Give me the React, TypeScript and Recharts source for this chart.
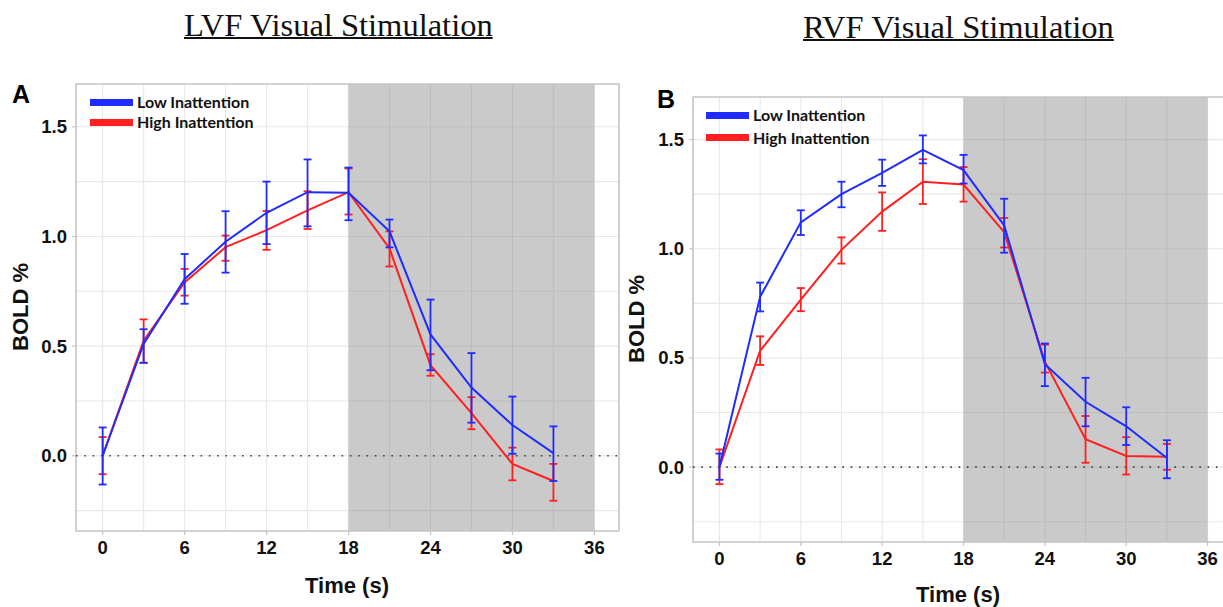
import React from "react"
import {
  ComposedChart,
  Line,
  ErrorBar,
  XAxis,
  YAxis,
  CartesianGrid,
  ReferenceArea,
  ReferenceLine,
  Legend,
} from "recharts"

// time points (s)
const times = [0, 3, 6, 9, 12, 15, 18, 21, 24, 27, 30, 33]

// panel A – LVF
const aLowMean = [0.0, 0.51, 0.805, 0.976, 1.108, 1.202, 1.199, 1.023, 0.553, 0.311, 0.14, 0.012]
const aLowLower = [-0.131, 0.424, 0.693, 0.835, 0.965, 1.046, 1.074, 0.95, 0.39, 0.151, 0.009, -0.115]
const aLowUpper = [0.129, 0.577, 0.92, 1.115, 1.25, 1.351, 1.314, 1.077, 0.712, 0.468, 0.27, 0.134]
const aHighMean = [0.0, 0.525, 0.79, 0.951, 1.029, 1.119, 1.202, 0.945, 0.413, 0.194, -0.037, -0.115]
const aHighLower = [-0.084, 0.424, 0.73, 0.889, 0.939, 1.034, 1.1, 0.863, 0.365, 0.121, -0.112, -0.205]
const aHighUpper = [0.085, 0.622, 0.852, 1.004, 1.116, 1.206, 1.31, 1.023, 0.463, 0.267, 0.037, -0.037]

// panel B – RVF
const bLowMean = [0.0, 0.78, 1.121, 1.25, 1.347, 1.453, 1.36, 1.107, 0.471, 0.299, 0.187, 0.042]
const bLowLower = [-0.058, 0.713, 1.063, 1.19, 1.288, 1.391, 1.299, 0.982, 0.371, 0.187, 0.101, -0.051]
const bLowUpper = [0.062, 0.845, 1.176, 1.307, 1.408, 1.519, 1.43, 1.229, 0.566, 0.409, 0.274, 0.123]
const bHighMean = [0.0, 0.533, 0.767, 0.995, 1.17, 1.307, 1.294, 1.076, 0.483, 0.128, 0.051, 0.047]
const bHighLower = [-0.078, 0.468, 0.714, 0.932, 1.082, 1.205, 1.216, 1.006, 0.433, 0.02, -0.034, -0.012]
const bHighUpper = [0.081, 0.599, 0.82, 1.052, 1.258, 1.41, 1.374, 1.141, 0.561, 0.234, 0.137, 0.106]

const xTicks = [0, 3, 6, 9, 12, 15, 18, 21, 24, 27, 30, 33, 36]
const yTicks = [-0.25, 0, 0.25, 0.5, 0.75, 1, 1.25, 1.5]
const xDomain = [-1.95, 37.8]
const yDomain = [-0.343, 1.695]
const offWindow = [18, 36]

const seriesNames = ["Low Inattention", "High Inattention"]
const seriesColors = ["#1f2bff", "#ff1f1f"]

const BLUE = seriesColors[0]
const RED = seriesColors[1]
const TICK_FONT = "'Liberation Sans', Arial, sans-serif"

function buildRows(
  lowMean: number[], lowLower: number[], lowUpper: number[],
  highMean: number[], highLower: number[], highUpper: number[]
) {
  return times.map((t, i) => ({
    time: t,
    low: lowMean[i],
    lowErr: [lowMean[i] - lowLower[i], lowUpper[i] - lowMean[i]],
    high: highMean[i],
    highErr: [highMean[i] - highLower[i], highUpper[i] - highMean[i]],
  }))
}

const dataA = buildRows(aLowMean, aLowLower, aLowUpper, aHighMean, aHighLower, aHighUpper)
const dataB = buildRows(bLowMean, bLowLower, bLowUpper, bHighMean, bHighLower, bHighUpper)

function XTick(props: any) {
  const { x, y, payload } = props
  if (payload.value % 6 !== 0) return <g />
  return (
    <g>
      <line x1={x} x2={x} y1={y} y2={y + 4} stroke="#c4c4c4" strokeWidth={1.2} />
      <text
        x={x}
        y={y + 10}
        dy="0.71em"
        textAnchor="middle"
        fontFamily={TICK_FONT}
        fontWeight="bold"
        fontSize={18.5}
        fill="#111"
      >
        {payload.value}
      </text>
    </g>
  )
}

function YTick(props: any) {
  const { x, y, payload } = props
  if (Math.abs((payload.value * 2) % 1) > 1e-6) return <g />
  return (
    <g>
      <line x1={x - 4} x2={x} y1={y} y2={y} stroke="#c4c4c4" strokeWidth={1.2} />
      <text
        x={x - 9}
        y={y}
        dy="0.35em"
        textAnchor="end"
        fontFamily={TICK_FONT}
        fontWeight="bold"
        fontSize={18.5}
        fill="#111"
      >
        {payload.value.toFixed(1)}
      </text>
    </g>
  )
}

function LegendBox({ gap }: { gap: number }) {
  return (
    <div style={{ fontFamily: "Lato, 'Open Sans', sans-serif", fontWeight: 700, fontSize: 16, color: "#111" }}>
      {seriesNames.map((name, i) => (
        <div key={name} style={{ display: "flex", alignItems: "center", height: gap, lineHeight: `${gap}px` }}>
          <span style={{ display: "inline-block", width: 43, height: 7, background: seriesColors[i], marginRight: 4 }} />
          <span>{name}</span>
        </div>
      ))}
    </div>
  )
}

interface PanelProps {
  data: ReturnType<typeof buildRows>
  width: number
  height: number
  margin: { top: number; right: number; bottom: number; left: number }
  legendLeft: number
  legendTop: number
  legendGap: number
}

function Panel({ data, width, height, margin, legendLeft, legendTop, legendGap }: PanelProps) {
  return (
    <ComposedChart width={width} height={height} data={data} margin={margin}>
      <CartesianGrid stroke="#e8e8e8" strokeWidth={1.1} />
      <XAxis
        dataKey="time"
        type="number"
        domain={xDomain}
        ticks={xTicks}
        allowDataOverflow
        height={1}
        tickSize={0}
        tickMargin={0}
        tickLine={false}
        axisLine={false}
        tick={<XTick />}
        interval={0}
      />
      <YAxis
        type="number"
        domain={yDomain}
        ticks={yTicks}
        allowDataOverflow
        width={1}
        tickSize={0}
        tickMargin={0}
        tickLine={false}
        axisLine={false}
        tick={<YTick />}
        interval={0}
      />
      <ReferenceArea x1={offWindow[0]} x2={offWindow[1]} fill="#8a8a8a" fillOpacity={0.45} stroke="none" />
      <ReferenceArea
        x1={xDomain[0]}
        x2={xDomain[1]}
        y1={yDomain[0]}
        y2={yDomain[1]}
        fill="none"
        stroke="#c8c8c8"
        strokeWidth={1.6}
      />
      <ReferenceLine y={0} stroke="#444" strokeWidth={1.6} strokeDasharray="1.6 6.7" />
      <Legend
        layout="vertical"
        align="center"
        verticalAlign="middle"
        wrapperStyle={{ left: legendLeft, top: legendTop, width: "auto" }}
        content={() => <LegendBox gap={legendGap} />}
      />
      <Line
        dataKey="high"
        name={seriesNames[1]}
        stroke={RED}
        strokeWidth={2}
        dot={false}
        isAnimationActive={false}
      >
        <ErrorBar dataKey="highErr" width={4} stroke={RED} strokeWidth={1.8} direction="y" />
      </Line>
      <Line
        dataKey="low"
        name={seriesNames[0]}
        stroke={BLUE}
        strokeWidth={2}
        dot={false}
        isAnimationActive={false}
      >
        <ErrorBar dataKey="lowErr" width={4} stroke={BLUE} strokeWidth={1.8} direction="y" />
      </Line>
    </ComposedChart>
  )
}

const titleStyle: React.CSSProperties = {
  position: "absolute",
  fontFamily: "'Liberation Serif', 'Times New Roman', serif",
  fontSize: 32.5,
  lineHeight: "32px",
  textDecoration: "underline",
  textDecorationThickness: 1.5,
  color: "#111",
  whiteSpace: "nowrap",
}

const panelLetter: React.CSSProperties = {
  position: "absolute",
  fontFamily: "'Liberation Sans', Arial, sans-serif",
  fontWeight: "bold",
  fontSize: 25,
  lineHeight: "25px",
  color: "#000",
}

const axisTitle: React.CSSProperties = {
  position: "absolute",
  fontFamily: "'Liberation Sans', Arial, sans-serif",
  fontWeight: "bold",
  fontSize: 22,
  lineHeight: "22px",
  color: "#111",
  whiteSpace: "nowrap",
}

export default function App() {
  return (
    <div
      style={{
        position: "absolute",
        left: 0,
        top: 0,
        width: 1223,
        height: 607,
        overflow: "hidden",
        background: "#fff",
      }}
    >
      <div style={{ ...titleStyle, left: 184, top: 9 }}>LVF Visual Stimulation</div>
      <div style={{ ...titleStyle, left: 803, top: 11 }}>RVF Visual Stimulation</div>

      <div style={{ position: "absolute", left: 0, top: 0 }}>
        <Panel
          data={dataA}
          width={640}
          height={607}
          margin={{ top: 84, right: 21, bottom: 75, left: 75 }}
          legendLeft={90}
          legendTop={92}
          legendGap={20}
        />
      </div>
      <div style={{ position: "absolute", left: 620, top: 0 }}>
        <Panel
          data={dataB}
          width={630}
          height={607}
          margin={{ top: 97, right: 18, bottom: 64, left: 72 }}
          legendLeft={86}
          legendTop={104}
          legendGap={22.5}
        />
      </div>

      <div style={{ ...panelLetter, left: 12, top: 82 }}>A</div>
      <div style={{ ...panelLetter, left: 657, top: 87 }}>B</div>

      <div style={{ ...axisTitle, left: 21, top: 307, transform: "translate(-50%, -50%) rotate(-90deg)" }}>BOLD %</div>
      <div style={{ ...axisTitle, left: 637, top: 319, transform: "translate(-50%, -50%) rotate(-90deg)" }}>BOLD %</div>
      <div style={{ ...axisTitle, left: 347, top: 586, transform: "translate(-50%, -50%)" }}>Time (s)</div>
      <div style={{ ...axisTitle, left: 958, top: 595, transform: "translate(-50%, -50%)" }}>Time (s)</div>
    </div>
  )
}
